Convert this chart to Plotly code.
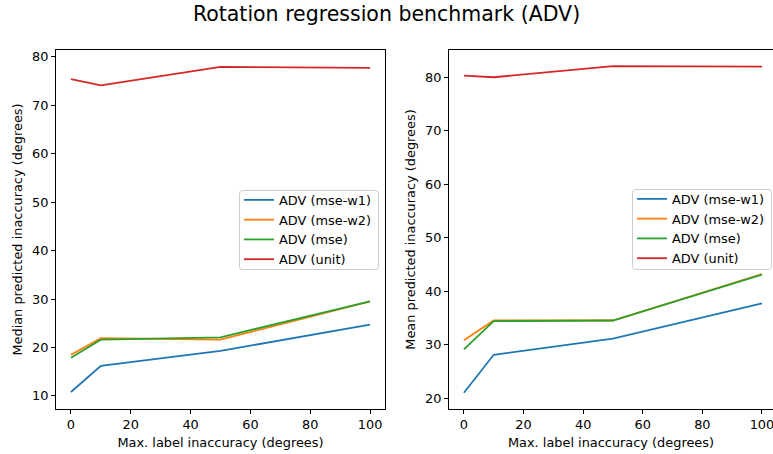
import plotly.graph_objects as go

x_vals = [0, 10, 50, 100]
series_names = ["ADV (mse-w1)", "ADV (mse-w2)", "ADV (mse)", "ADV (unit)"]
colors = ["#1f77b4", "#ff7f0e", "#2ca02c", "#d62728"]

median_w1 = [10.8, 16.2, 19.3, 24.7]
median_w2 = [18.5, 21.9, 21.6, 29.5]
median_mse = [17.9, 21.6, 22.1, 29.5]
median_unit = [75.4, 74.1, 77.9, 77.7]

mean_w1 = [21.0, 28.1, 31.1, 37.7]
mean_w2 = [30.8, 34.5, 34.5, 43.2]
mean_mse = [29.1, 34.4, 34.5, 43.1]
mean_unit = [80.3, 80.0, 82.1, 82.0]

x_ticks = [0, 20, 40, 60, 80, 100]
left_yticks = [10, 20, 30, 40, 50, 60, 70, 80]
right_yticks = [20, 30, 40, 50, 60, 70, 80]

median_series = [median_w1, median_w2, median_mse, median_unit]
mean_series = [mean_w1, mean_w2, mean_mse, mean_unit]

W, H = 773, 454
FONT = "DejaVu Sans"
FS = 12.9

fig = go.Figure()
for name, c, ys in zip(series_names, colors, median_series):
    fig.add_trace(go.Scatter(x=x_vals, y=ys, mode="lines", name=name,
                             line=dict(color=c, width=1.8),
                             xaxis="x", yaxis="y", legend="legend"))
for name, c, ys in zip(series_names, colors, mean_series):
    fig.add_trace(go.Scatter(x=x_vals, y=ys, mode="lines", name=name,
                             line=dict(color=c, width=1.8),
                             xaxis="x2", yaxis="y2", legend="legend2"))

ydom = [(H - 409) / H, (H - 50) / H]
axis_common = dict(showgrid=False, zeroline=False, showline=True, linecolor="black",
                   linewidth=1, ticks="outside", ticklen=4, tickcolor="black",
                   automargin=False, ticklabeloverflow="allow",
                   tickfont=dict(family=FONT, size=FS, color="black"))

legend_common = dict(bgcolor="rgba(0,0,0,0)", borderwidth=0,
                     font=dict(family=FONT, size=FS, color="black"),
                     xanchor="left", yanchor="top", tracegroupgap=0, itemwidth=30)

title_font = dict(family=FONT, size=FS, color="black")


def rounded_box(x0, y0, x1, y1, r=3):
    """Legend frame in paper coordinates from pixel box (top-left origin)."""
    def px(x):
        return x / W

    def py(y):
        return (H - y) / H
    p = (f"M {px(x0 + r)},{py(y0)} L {px(x1 - r)},{py(y0)} "
         f"Q {px(x1)},{py(y0)} {px(x1)},{py(y0 + r)} L {px(x1)},{py(y1 - r)} "
         f"Q {px(x1)},{py(y1)} {px(x1 - r)},{py(y1)} L {px(x0 + r)},{py(y1)} "
         f"Q {px(x0)},{py(y1)} {px(x0)},{py(y1 - r)} L {px(x0)},{py(y0 + r)} "
         f"Q {px(x0)},{py(y0)} {px(x0 + r)},{py(y0)} Z")
    return dict(type="path", path=p, xref="paper", yref="paper", layer="above",
                fillcolor="rgba(255,255,255,0.8)", line=dict(color="#cccccc", width=1))


fig.update_layout(
    width=W, height=H,
    margin=dict(l=0, r=0, t=0, b=0),
    paper_bgcolor="white", plot_bgcolor="white",
    font=dict(family=FONT, color="black"),
    title=dict(text="Rotation regression benchmark (ADV)", x=0.5, xanchor="center",
               y=1 - 14 / H, yanchor="middle", font=dict(family=FONT, size=20.5, color="black")),
    showlegend=True,
    xaxis=dict(domain=[56 / W, 385 / W], range=[-5, 105], tickvals=x_ticks,
               mirror=True, anchor="y",
               title=dict(text="Max. label inaccuracy (degrees)", standoff=6, font=title_font),
               **axis_common),
    yaxis=dict(domain=ydom, range=[7.3, 81.4], tickvals=left_yticks, mirror=True, anchor="x",
               title=dict(text="Median predicted inaccuracy (degrees)", standoff=6, font=title_font),
               **axis_common),
    xaxis2=dict(domain=[449 / W, 1.0], range=[-5, 103.7], tickvals=x_ticks,
                mirror=True, anchor="y2",
                title=dict(text="Max. label inaccuracy (degrees)", standoff=6, font=title_font),
                **axis_common),
    yaxis2=dict(domain=ydom, range=[17.95, 85.1], tickvals=right_yticks, mirror=False, anchor="x2",
                title=dict(text="Mean predicted inaccuracy (degrees)", standoff=6, font=title_font),
                **axis_common),
    legend=dict(x=239 / W, y=(H - 185) / H, **legend_common),
    legend2=dict(x=632 / W, y=(H - 184) / H, **legend_common),
    shapes=[rounded_box(239.5, 190.5, 378.5, 269.5), rounded_box(632.5, 189.5, 771.5, 269.5)],
)

fig.write_html("out.html", config={"displayModeBar": False},
               post_script="document.body.style.margin='0';document.body.style.padding='0';")
